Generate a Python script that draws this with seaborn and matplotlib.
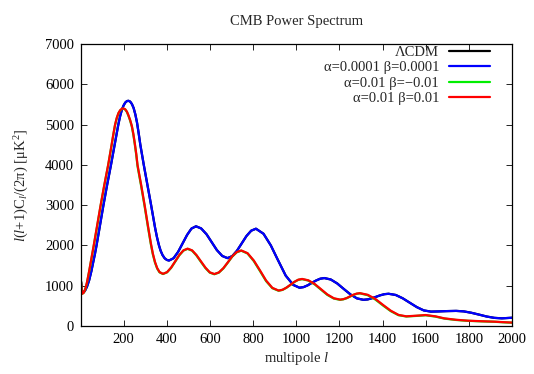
import matplotlib
matplotlib.use("Agg")
import matplotlib.pyplot as plt
import seaborn as sns
import pandas as pd

# ---- data ----
lcdm_l = [2, 6, 10, 20, 30, 40, 50, 60, 67, 74, 90, 106, 123, 141, 158, 175,
          183, 191, 199, 207, 215, 222, 230, 238, 246, 254, 262, 270, 277,
          293, 310, 327, 345, 354, 363, 371, 380, 390, 400, 410,
          431, 452, 473, 494, 514, 535, 559, 584, 608, 632, 657, 681,
          703, 725, 747, 769, 791, 813, 848, 882, 911, 951, 986, 1015,
          1034, 1053, 1072, 1092, 1111, 1130, 1160, 1190, 1220, 1251, 1281, 1311,
          1331, 1350, 1370, 1389, 1409, 1428, 1461, 1493, 1526, 1559, 1591, 1624,
          1660, 1700, 1741, 1776, 1811, 1847, 1882, 1918, 1953, 2000]
lcdm_v = [1100, 900, 820, 870, 980, 1140, 1360, 1620, 1800, 2000, 2500, 3000, 3500, 4000, 4500, 5000,
          5200, 5360, 5470, 5545, 5583, 5590, 5570, 5510, 5410, 5250, 5040, 4760, 4500,
          4000, 3500, 3000, 2450, 2210, 2010, 1870, 1760, 1680, 1640, 1625,
          1682, 1838, 2050, 2262, 2418, 2475, 2422, 2277, 2080, 1883, 1738, 1685,
          1734, 1868, 2050, 2233, 2366, 2415, 2290, 2000, 1680, 1250, 1020, 950,
          966, 1010, 1070, 1130, 1174, 1190, 1154, 1055, 920, 785, 686, 650,
          660, 688, 725, 762, 790, 800, 770, 689, 578, 468, 387, 357,
          362, 370, 375, 363, 329, 283, 236, 202, 190, 205]

blue_l = lcdm_l
blue_v = lcdm_v

red_l = [2, 5, 8, 15, 22, 30, 40, 50, 61, 77, 93, 110, 128, 144,
         152, 160, 168, 176, 184, 192, 199, 207, 215, 222, 230, 238, 245, 251, 258, 264,
         281, 297, 312, 326, 335, 345, 355, 366, 382,
         401, 420, 439, 458, 477, 496, 517, 537, 558, 579, 599, 620,
         641, 662, 683, 703, 724, 745, 774, 803, 832, 860, 889, 918,
         936, 954, 973, 991, 1009, 1027, 1056, 1086, 1115, 1144, 1174, 1203,
         1218, 1234, 1249, 1264, 1280, 1295, 1331, 1367, 1403, 1438, 1474, 1510,
         1555, 1600, 1645, 1686, 1740, 1796, 1860, 1921, 1960, 2000]
red_v = [1100, 900, 800, 830, 920, 1090, 1370, 1670, 2000, 2500, 3000, 3500, 4000, 4500,
         4760, 5000, 5170, 5290, 5360, 5395, 5400, 5380, 5320, 5230, 5110, 4960, 4760, 4550, 4280, 4000,
         3500, 3000, 2500, 2050, 1800, 1590, 1440, 1340, 1295,
         1337, 1451, 1608, 1764, 1878, 1920, 1878, 1763, 1605, 1448, 1332, 1290,
         1329, 1436, 1583, 1729, 1836, 1875, 1808, 1626, 1378, 1129, 947, 880,
         899, 952, 1024, 1096, 1149, 1168, 1134, 1040, 912, 783, 689, 655,
         666, 695, 735, 775, 804, 815, 775, 670, 520, 380, 275, 240,
         255, 272, 240, 190, 155, 132, 118, 107, 95, 85]

green_l = red_l
green_v = [1110, 905, 800, 828, 915, 1080, 1355, 1655, 1985, 2480, 2985, 3490, 3990, 4490,
           4750, 4990, 5160, 5282, 5352, 5388, 5395, 5372, 5310, 5218, 5095, 4942, 4740, 4525, 4252, 3970,
           3470, 2970, 2470, 2025, 1780, 1575, 1428, 1332, 1290,
           1333, 1445, 1600, 1757, 1872, 1915, 1870, 1752, 1592, 1437, 1325, 1285,
           1325, 1430, 1577, 1723, 1830, 1870, 1800, 1612, 1362, 1115, 938, 875,
           896, 948, 1020, 1092, 1145, 1163, 1127, 1030, 900, 772, 681, 650,
           662, 690, 730, 770, 800, 810, 765, 655, 505, 368, 268, 236,
           250, 266, 233, 184, 150, 128, 115, 104, 92, 82]

series_names = ["ΛCDM", "α=0.0001 β=0.0001", "α=0.01 β=−0.01", "α=0.01 β=0.01"]
series_colors = ["#000000", "#0000ff", "#00ee00", "#ff0000"]

x_ticks = [200, 400, 600, 800, 1000, 1200, 1400, 1600, 1800, 2000]
y_ticks = [0, 1000, 2000, 3000, 4000, 5000, 6000, 7000]

# ---- style ----
sns.set_style("ticks")
plt.rcParams["font.family"] = ["Liberation Serif", "DejaVu Serif"]
plt.rcParams["mathtext.fontset"] = "custom"
plt.rcParams["mathtext.rm"] = "Liberation Serif"
plt.rcParams["mathtext.it"] = "Liberation Serif:italic"
plt.rcParams["mathtext.bf"] = "Liberation Serif:bold"

FS = 10.5
fig = plt.figure(figsize=(5.34, 3.74), dpi=100)
ax = fig.add_axes([81 / 534, 48 / 374, (512 - 81) / 534, (326 - 44) / 374])

data = [(lcdm_l, lcdm_v), (blue_l, blue_v), (green_l, green_v), (red_l, red_v)]
for (xs, ys), name, col in zip(data, series_names, series_colors):
    df = pd.DataFrame({"l": xs, "v": ys})
    sns.lineplot(data=df, x="l", y="v", ax=ax, color=col, linewidth=1.6,
                 label=name, sort=False, estimator=None)

ax.set_xlim(2, 2000)
ax.set_ylim(0, 7000)
ax.set_xticks(x_ticks)
ax.set_yticks(y_ticks)
ax.tick_params(direction="in", length=4, width=0.6, top=True, right=True,
               labelsize=FS, colors="black", pad=5)
for s in ax.spines.values():
    s.set_linewidth(0.9)
    s.set_color("black")

ax.set_title("CMB Power Spectrum", fontsize=FS, pad=14)
ax.set_xlabel(r"multipole $l$", fontsize=FS, labelpad=3)
ax.set_ylabel(r"$l$($l$+1)C$_{l}$/(2π) [μK$^{2}$]", fontsize=FS, labelpad=10)

leg = ax.legend(loc="upper right", frameon=False, markerfirst=False, fontsize=FS,
                handlelength=2.8, handletextpad=0.7, labelspacing=0.16,
                borderaxespad=0.0, borderpad=0.1, bbox_to_anchor=(0.953, 1.0))
for t in leg.get_texts():
    t.set_ha("right")

fig.savefig("out.png", dpi=100)
